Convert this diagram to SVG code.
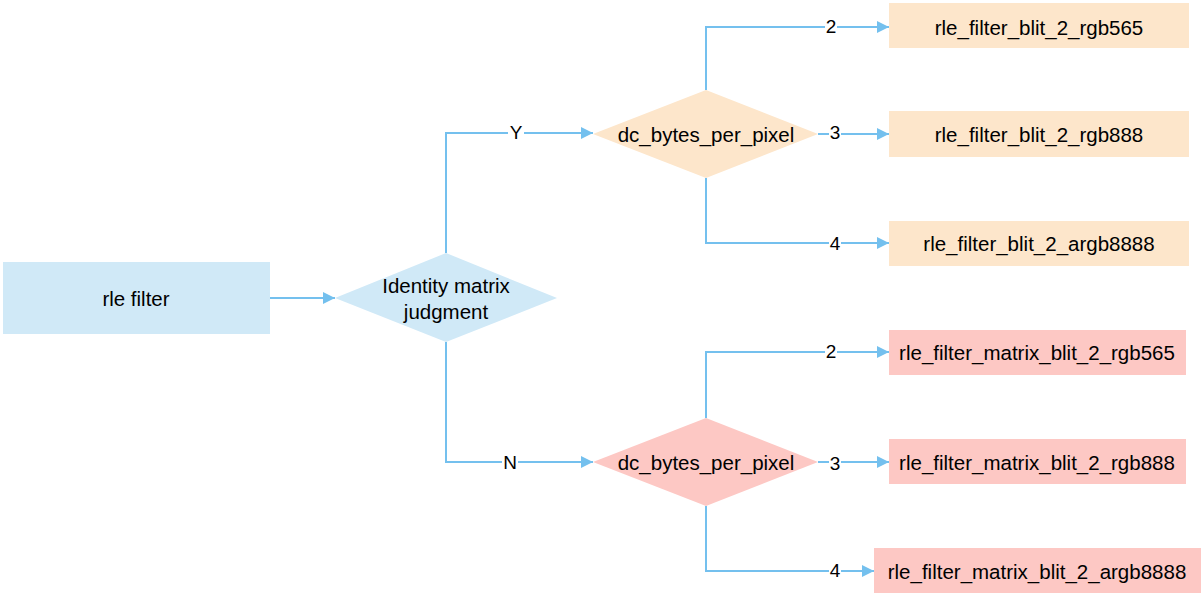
<svg xmlns="http://www.w3.org/2000/svg" width="1204" height="597" viewBox="0 0 1204 597">
<style>
text{font-family:"Liberation Sans",Arial,sans-serif;font-size:20.5px;fill:#000;text-anchor:middle;dominant-baseline:central}
.blue{fill:#d0e9f7}
.orange{fill:#fde6cb}
.pink{fill:#fdc8c4}
.conn path{fill:none;stroke:#74c0ee;stroke-width:2}
.lbl rect{fill:#fff}
.lbl text{font-size:19px}
</style>
<defs>
<marker id="arr" viewBox="0 0 12 12" refX="12" refY="6" markerWidth="12" markerHeight="12" markerUnits="userSpaceOnUse" orient="auto">
<path d="M0,0 L12,6 L0,12 z" fill="#74c0ee"/>
</marker>
</defs>
<rect width="1204" height="597" fill="#fff"/>
<g class="conn">
<path d="M270,298 H335" marker-end="url(#arr)"/>
<path d="M446,253 V133 H593" marker-end="url(#arr)"/>
<path d="M446,342 V462 H593" marker-end="url(#arr)"/>
<path d="M706,90 V27 H889" marker-end="url(#arr)"/>
<path d="M818,134 H889" marker-end="url(#arr)"/>
<path d="M706,178 V243 H889" marker-end="url(#arr)"/>
<path d="M706,418 V352 H889" marker-end="url(#arr)"/>
<path d="M818,462 H889" marker-end="url(#arr)"/>
<path d="M706,506 V571 H874" marker-end="url(#arr)"/>
</g>
<g class="lbl">
<rect x="508" y="123" width="16" height="20"/><text x="516" y="132">Y</text>
<rect x="502" y="452" width="16" height="20"/><text x="510" y="462">N</text>
<rect x="825" y="17" width="12" height="20"/><text x="831" y="26">2</text>
<rect x="829" y="124" width="12" height="20"/><text x="835" y="132">3</text>
<rect x="829" y="233" width="12" height="20"/><text x="835" y="243">4</text>
<rect x="825" y="342" width="12" height="20"/><text x="831" y="351">2</text>
<rect x="829" y="452" width="12" height="20"/><text x="835" y="463">3</text>
<rect x="829" y="561" width="12" height="20"/><text x="835" y="570">4</text>
</g>
<g id="rle-filter"><rect class="blue" x="3" y="262" width="267" height="72"/><text x="136" y="298">rle filter</text></g>
<g id="identity"><polygon class="blue" points="335,298 446,253 557,298 446,342"/><text x="446" y="285">Identity matrix</text><text x="446" y="311">judgment</text></g>
<g id="bpp-y"><polygon class="orange" points="593,134 706,90 818,134 706,178"/><text x="706" y="134">dc_bytes_per_pixel</text></g>
<g id="bpp-n"><polygon class="pink" points="593,462 706,418 818,462 706,506"/><text x="706" y="462">dc_bytes_per_pixel</text></g>
<g id="blit-565"><rect class="orange" x="889" y="3" width="300" height="45"/><text x="1039" y="27">rle_filter_blit_2_rgb565</text></g>
<g id="blit-888"><rect class="orange" x="889" y="111" width="300" height="46"/><text x="1039" y="134">rle_filter_blit_2_rgb888</text></g>
<g id="blit-8888"><rect class="orange" x="889" y="221" width="300" height="45"/><text x="1039" y="243">rle_filter_blit_2_argb8888</text></g>
<g id="mblit-565"><rect class="pink" x="889" y="330" width="297" height="45"/><text x="1037" y="352">rle_filter_matrix_blit_2_rgb565</text></g>
<g id="mblit-888"><rect class="pink" x="889" y="439" width="297" height="45"/><text x="1037" y="462">rle_filter_matrix_blit_2_rgb888</text></g>
<g id="mblit-8888"><rect class="pink" x="874" y="548" width="327" height="45"/><text x="1037" y="571">rle_filter_matrix_blit_2_argb8888</text></g>
</svg>
